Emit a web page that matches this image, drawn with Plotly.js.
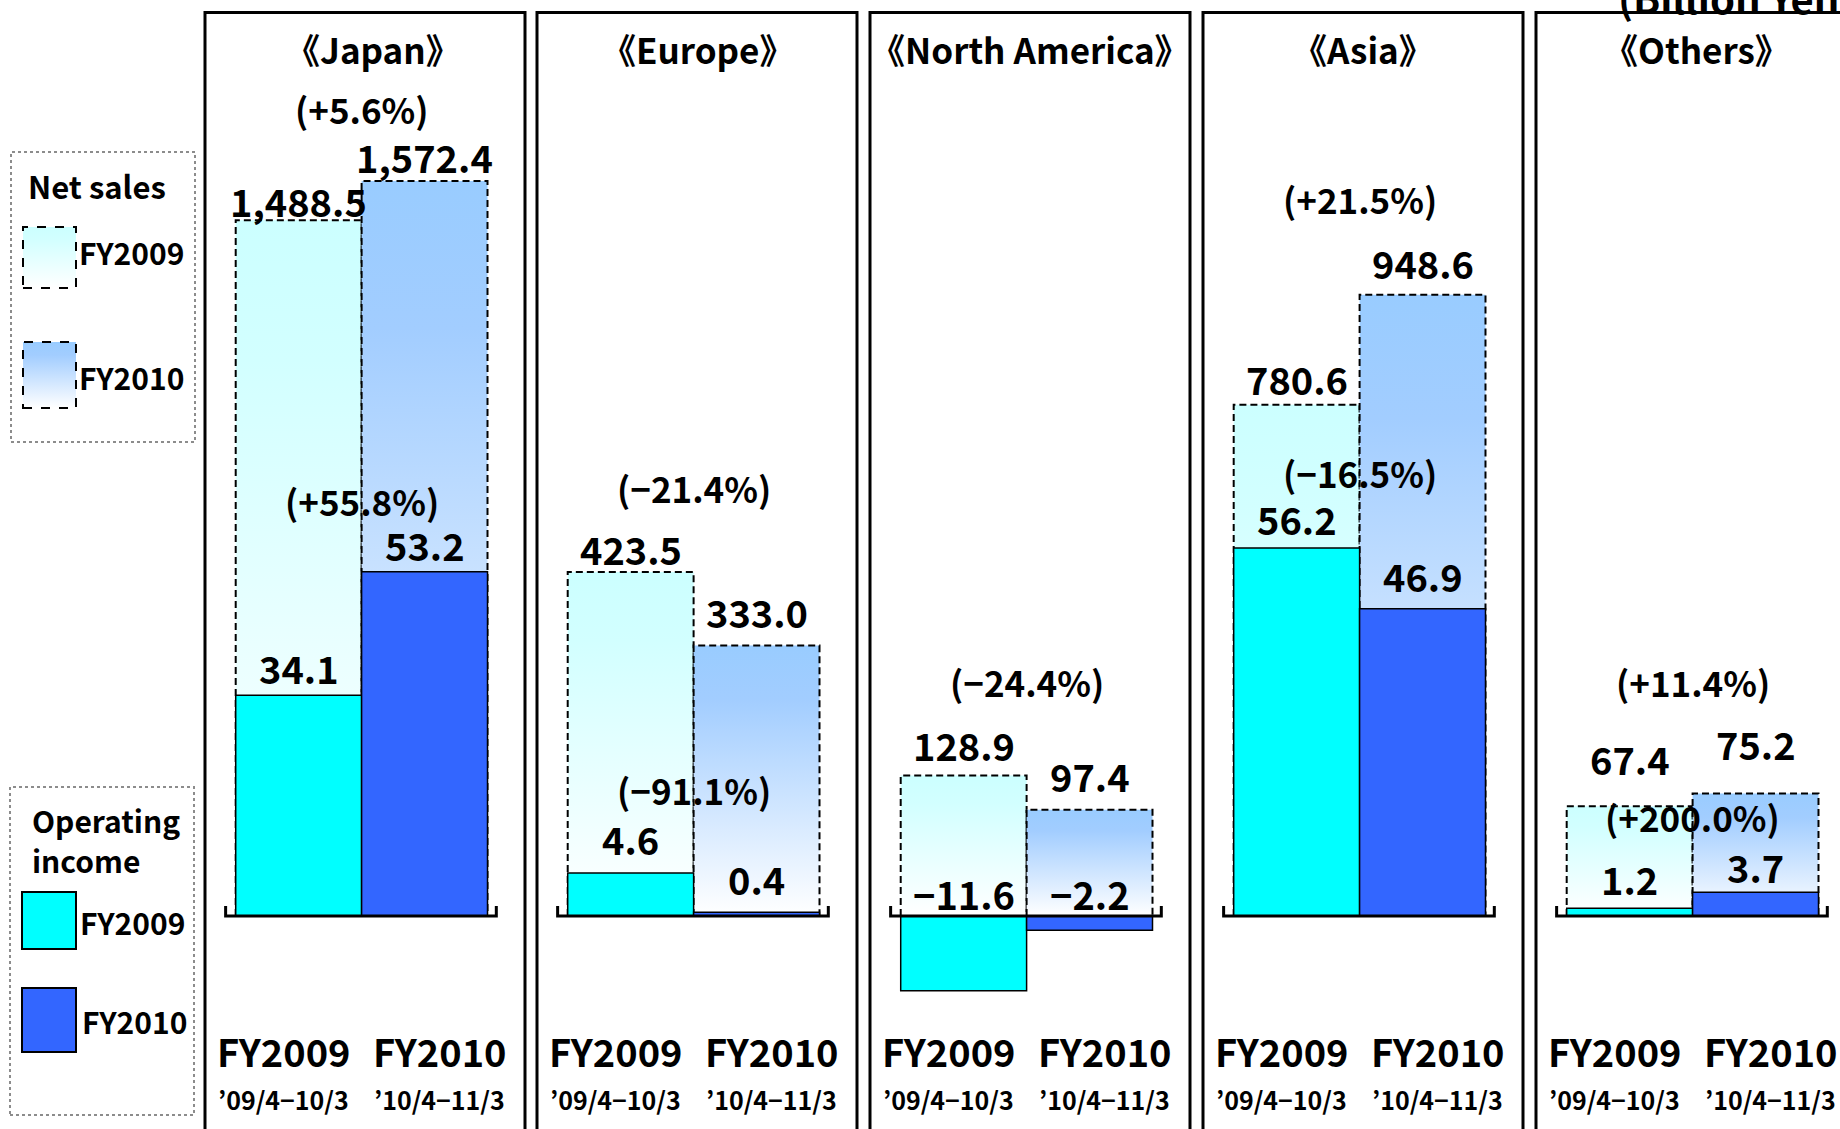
<!DOCTYPE html>
<html>
<head>
<meta charset="utf-8">
<script src="https://cdn.plot.ly/plotly-3.0.1.min.js"></script>
<style>
  html, body { margin: 0; padding: 0; background: #fff; }
  #chart { width: 1840px; height: 1129px; }
</style>
</head>
<body>
<div id="chart"></div>
<script>
// Net sales and operating income by region, FY2009 vs FY2010 (billion yen)
const regions = ['Japan', 'Europe', 'North America', 'Asia', 'Others'];
const fiscalYears = ['FY2009', 'FY2010'];
const fiscalPeriods = ['’09/4−10/3', '’10/4−11/3'];
const netSales2009 = [1488.5, 423.5, 128.9, 780.6, 67.4];
const netSales2010 = [1572.4, 333.0, 97.4, 948.6, 75.2];
const opIncome2009 = [34.1, 4.6, -11.6, 56.2, 1.2];
const opIncome2010 = [53.2, 0.4, -2.2, 46.9, 3.7];
const netSalesChange = ['+5.6%', '−21.4%', '−24.4%', '+21.5%', '+11.4%'];
const opIncomeChange = ['+55.8%', '−91.1%', null, '−16.5%', '+200.0%'];
const unitLabel = '(Billion Yen)';

// ---- page geometry (pixels) ----
const W = 1840, H = 1129;
const FONT = 'Noto Sans CJK JP, Noto Sans, sans-serif';
const panelLeft = [205, 537, 870, 1203, 1536];
const panelW = 320;
const barStart = 30.7;          // first bar edge, from panel left
const catPx = 125.9;            // one category (bar) width
const xRange = [-0.65, 1.65];
const plotTop = 100, plotBottom = 1020, zeroPx = 916;
// vertical scale of each panel's two value axes (pixels per billion yen)
const nsPxPerUnit = [0.4675, 0.812, 1.09, 0.655, 1.63];
const opPxPerUnit = [6.47, 9.35, 6.45, 6.55, 6.45];
// how far each value label sits above its bar end (pixels)
const nsLabelLift = [[20, 24], [24, 34], [31, 34], [26, 32], [48, 50]];
const opLabelLift = [[28, 27], [34, 34], [23, 23], [29, 33], [30, 26]];
const nsChangeLift = [72, 85, 94, 96, 112];
const opChangeLift = [71, 83, 0, 75, 76];

const px = p => p / W;
const py = p => 1 - p / H;
const sfx = k => (k === 1 ? '' : String(k));
const fmt = v => (v < 0 ? '−' : '') +
  Math.abs(v).toLocaleString('en-US', { minimumFractionDigits: 1, maximumFractionDigits: 1 });

const data = [];
const shapes = [];
const annotations = [];
const layout = {
  width: W, height: H,
  margin: { l: 0, r: 0, t: 0, b: 0 },
  paper_bgcolor: '#ffffff',
  plot_bgcolor: 'rgba(0,0,0,0)',
  showlegend: false,
  barmode: 'overlay',
  font: { family: FONT, color: '#000' }
};

const txt = (o) => Object.assign({
  showarrow: false, xanchor: 'center', yanchor: 'middle',
  font: { family: FONT, size: 38, color: '#000', weight: 700 }
}, o);

regions.forEach((region, i) => {
  const xn = i + 1, nsN = 2 * i + 1, opN = 2 * i + 2;
  const xid = 'x' + sfx(xn), nsId = 'y' + sfx(nsN), opId = 'y' + sfx(opN);
  const L = panelLeft[i];
  const xLeft = L + barStart + (xRange[0] + 0.5) * catPx;
  const xRight = L + barStart + (xRange[1] + 0.5) * catPx;
  const yDom = [py(plotBottom), py(plotTop)];

  layout['xaxis' + sfx(xn)] = {
    domain: [px(xLeft), px(xRight)], range: xRange, anchor: nsId,
    visible: false, fixedrange: true
  };
  layout['yaxis' + sfx(nsN)] = {
    domain: yDom, anchor: xid, visible: false, fixedrange: true,
    range: [-(plotBottom - zeroPx) / nsPxPerUnit[i], (zeroPx - plotTop) / nsPxPerUnit[i]]
  };
  layout['yaxis' + sfx(opN)] = {
    domain: yDom, anchor: xid, overlaying: nsId, visible: false, fixedrange: true,
    range: [-(plotBottom - zeroPx) / opPxPerUnit[i], (zeroPx - plotTop) / opPxPerUnit[i]]
  };

  const ns = [netSales2009[i], netSales2010[i]];
  const op = [opIncome2009[i], opIncome2010[i]];

  // net sales bars (gradient fill and dashed outline applied after render)
  data.push({
    type: 'bar', name: 'Net sales', x: [0, 1], y: ns, width: [1, 1],
    xaxis: xid, yaxis: nsId, hoverinfo: 'skip',
    marker: { color: ['#CCFFFF', '#99CCFF'], line: { color: '#000', width: 2 } }
  });
  // operating income bars
  data.push({
    type: 'bar', name: 'Operating income', x: [0, 1], y: op, width: [1, 1],
    xaxis: xid, yaxis: opId, hoverinfo: 'skip',
    marker: { color: ['#00FFFF', '#3366FF'], line: { color: '#000', width: 1.5 } }
  });

  // value labels
  ns.forEach((v, j) => annotations.push(txt({
    xref: xid, yref: nsId, x: j, y: v, text: fmt(v), yshift: nsLabelLift[i][j]
  })));
  op.forEach((v, j) => annotations.push(txt({
    xref: xid, yref: opId, x: j, y: Math.max(v, 0), text: fmt(v), yshift: opLabelLift[i][j]
  })));

  // year-on-year change labels
  const changeFont = { family: FONT, size: 35, color: '#000', weight: 700 };
  annotations.push(txt({
    xref: xid, yref: nsId, x: 0.5, y: Math.max(...ns), text: '(' + netSalesChange[i] + ')',
    yshift: nsChangeLift[i], font: changeFont
  }));
  if (opIncomeChange[i]) {
    annotations.push(txt({
      xref: xid, yref: opId, x: 0.5, y: Math.max(...op), text: '(' + opIncomeChange[i] + ')',
      yshift: opChangeLift[i], font: changeFont
    }));
  }

  // category labels under each bar
  fiscalYears.forEach((fy, j) => {
    const shift = j === 0 ? -15 : 15;
    annotations.push(txt({
      xref: xid, yref: 'paper', x: j, y: py(1050), text: fy, xshift: shift
    }));
    annotations.push(txt({
      xref: xid, yref: 'paper', x: j, y: py(1099), text: fiscalPeriods[j], xshift: shift,
      font: { family: FONT, size: 25, color: '#000', weight: 700 }
    }));
  });

  // panel title
  annotations.push(txt({
    xref: 'paper', yref: 'paper', x: px(L + panelW / 2 + (i === 0 ? 8 : 0)), y: py(49),
    text: '《' + region + '》', font: { family: FONT, size: 35, color: '#000', weight: 700 }
  }));

  // panel frame
  shapes.push({
    type: 'rect', xref: 'paper', yref: 'paper',
    x0: px(L), x1: px(L + panelW), y0: py(1140), y1: py(12.5),
    line: { color: '#000', width: 3 }, fillcolor: 'rgba(0,0,0,0)'
  });

  // zero baseline with upturned end ticks
  const tick = 10 / opPxPerUnit[i];
  shapes.push({
    type: 'path', xref: xid, yref: opId,
    path: `M -0.58,${tick} L -0.58,0 L 1.57,0 L 1.57,${tick}`,
    line: { color: '#000', width: 3 }
  });
});

// ---- legends ----
const swatchGradient = {};
const legendBox = (x0, x1, y0, y1) => shapes.push({
  type: 'rect', xref: 'paper', yref: 'paper', x0: px(x0), x1: px(x1), y0: py(y1), y1: py(y0),
  line: { color: '#8c8c8c', width: 2, dash: 'dot' }, fillcolor: 'rgba(0,0,0,0)'
});
const swatch = (x0, x1, y0, y1, color, dash, gradId) => {
  if (gradId) swatchGradient[shapes.length] = gradId;
  shapes.push({
    type: 'rect', xref: 'paper', yref: 'paper', x0: px(x0), x1: px(x1), y0: py(y1), y1: py(y0),
    line: { color: '#000', width: 2, dash: dash }, fillcolor: color
  });
};
legendBox(11, 195, 152, 442);
swatch(23, 76, 227, 288, '#CCFFFF', 'dash', 'fillNs09');
swatch(23, 76, 342, 408, '#99CCFF', 'dash', 'fillNs10');
legendBox(10, 194, 787, 1115);
swatch(22, 76, 892, 949, '#00FFFF', 'solid');
swatch(22, 76, 988, 1052, '#3366FF', 'solid');

const legendFont = { family: FONT, size: 30, color: '#000', weight: 700 };
annotations.push(txt({ xref: 'paper', yref: 'paper', x: px(97), y: py(185), text: 'Net sales', font: { family: FONT, size: 31, color: '#000', weight: 700 } }));
annotations.push(txt({ xref: 'paper', yref: 'paper', x: px(77), y: py(252), text: fiscalYears[0], xanchor: 'left', font: legendFont }));
annotations.push(txt({ xref: 'paper', yref: 'paper', x: px(77), y: py(377), text: fiscalYears[1], xanchor: 'left', font: legendFont }));
annotations.push(txt({ xref: 'paper', yref: 'paper', x: px(30), y: py(820), text: 'Operating', xanchor: 'left', font: legendFont }));
annotations.push(txt({ xref: 'paper', yref: 'paper', x: px(30), y: py(860), text: 'income', xanchor: 'left', font: legendFont }));
annotations.push(txt({ xref: 'paper', yref: 'paper', x: px(78), y: py(922), text: fiscalYears[0], xanchor: 'left', font: legendFont }));
annotations.push(txt({ xref: 'paper', yref: 'paper', x: px(80), y: py(1021), text: fiscalYears[1], xanchor: 'left', font: legendFont }));

// unit note at the top right
annotations.push(txt({ xref: 'paper', yref: 'paper', x: px(1616), y: py(-3), text: unitLabel, xanchor: 'left', font: { family: FONT, size: 40, color: '#000', weight: 700 } }));

layout.shapes = shapes;
layout.annotations = annotations;

Plotly.newPlot('chart', data, layout, { staticPlot: true, displayModeBar: false }).then(gd => {
  const SVGNS = 'http://www.w3.org/2000/svg';
  const svg = gd.querySelector('svg.main-svg');
  let defs = svg.querySelector('defs');
  if (!defs) { defs = document.createElementNS(SVGNS, 'defs'); svg.insertBefore(defs, svg.firstChild); }
  const addGradient = (id, stops) => {
    const g = document.createElementNS(SVGNS, 'linearGradient');
    g.setAttribute('id', id);
    g.setAttribute('x1', '0'); g.setAttribute('y1', '0');
    g.setAttribute('x2', '0'); g.setAttribute('y2', '1');
    stops.forEach(([o, c]) => {
      const s = document.createElementNS(SVGNS, 'stop');
      s.setAttribute('offset', o);
      s.setAttribute('stop-color', c);
      g.appendChild(s);
    });
    defs.appendChild(g);
  };
  addGradient('fillNs09', [[0, '#CCFFFF'], [0.2, '#D2FFFF'], [1, '#FFFFFF']]);
  addGradient('fillNs10', [[0, '#99CCFF'], [0.2, '#A2CDFF'], [1, '#FFFFFF']]);
  const barGradients = ['fillNs09', 'fillNs10'];

  gd.querySelectorAll('g.trace.bars').forEach(g => {
    const cd = g.__data__;
    const tr = cd && cd[0] && cd[0].trace;
    if (!tr || tr.name !== 'Net sales') return;
    g.querySelectorAll('g.point path').forEach((p, j) => {
      p.style.fill = 'url(#' + barGradients[j] + ')';
      p.style.fillOpacity = 1;
      p.style.strokeDasharray = '7,4';
    });
  });

  gd.querySelectorAll('.shapelayer path').forEach(p => {
    const k = p.getAttribute('data-index');
    if (k !== null && swatchGradient[+k]) p.style.fill = 'url(#' + swatchGradient[+k] + ')';
  });
});
</script>
</body>
</html>
